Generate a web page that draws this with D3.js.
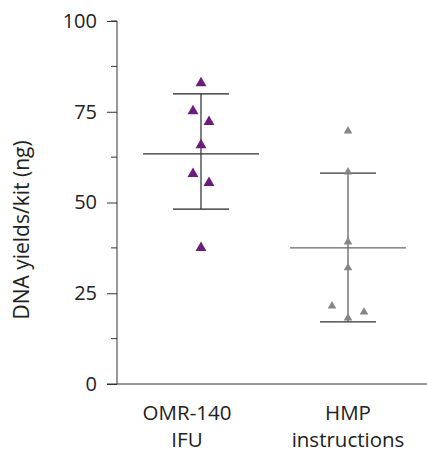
<!DOCTYPE html>
<html>
<head>
<meta charset="utf-8">
<script src="https://cdn.jsdelivr.net/npm/d3@7"></script>
<style>
  body { margin: 0; background: #fff; }
  text { font-family: "Open Sans", "Noto Sans", sans-serif; fill: #222; }
</style>
</head>
<body>
<svg id="chart" width="427" height="454"></svg>
<script>
"use strict";
// groups and their label lines
const groups = ['OMR-140 IFU', 'HMP instructions'];
const groupLabels = [['OMR-140', 'IFU'], ['HMP', 'instructions']];
// point values, with a small horizontal jitter (-1 left, 0 centre, 1 right)
const omrValues = [82.9, 75.2, 72.2, 65.8, 57.9, 55.4, 37.5];
const omrJitter = [0, -1, 1, 0, -1, 1, 0];
const hmpValues = [69.7, 58.4, 39.1, 32.0, 21.5, 19.8, 18.2];
const hmpJitter = [0, 0, 0, 0, -1, 1, 0];
// mean and error bar ends
const means = [63.4, 37.5];
const upper = [79.9, 58.1];
const lower = [48.2, 17.1];
const yTicks = [0, 25, 50, 75, 100];

const svg = d3.select('#chart');
const y = d3.scaleLinear().domain([0, 100]).range([384, 21]);
const x = d3.scalePoint().domain(groups).range([201, 348]);
const axisX = 117;

//y axis with major and minor ticks
const yAxis = d3.axisLeft(y).tickValues(yTicks).tickSize(10).tickPadding(10);
const gy = svg.append('g').attr('transform', `translate(${axisX},0)`).call(yAxis);
gy.select('.domain').attr('d', `M-6,${y(100)}H0V${y(0)}`).attr('stroke', '#333');
gy.selectAll('.tick line').attr('stroke', '#333');
gy.selectAll('.tick text').style('font-size', '20px').attr('fill', '#222');
gy.selectAll('.minor')
  .data([12.5, 37.5, 62.5, 87.5])
  .enter()
  .append('line')
  .attr('class', 'minor')
  .attr('x1', -6).attr('x2', 0)
  .attr('y1', d => y(d)).attr('y2', d => y(d))
  .attr('stroke', '#333');

//x axis line
svg.append('line')
  .attr('x1', axisX - 10).attr('x2', 427)
  .attr('y1', y(0)).attr('y2', y(0))
  .attr('stroke', '#333');

//category labels, one text per line
groupLabels.forEach((lines, i) => {
  const cx = i === 0 ? x(groups[i]) - 14 : x(groups[i]);
  svg.append('g')
    .selectAll('text')
    .data(lines)
    .enter()
    .append('text')
    .attr('x', cx)
    .attr('y', (d, j) => 420 + j * 27)
    .attr('text-anchor', 'middle')
    .style('font-size', '20.5px')
    .text(d => d);
});

//y label
svg.append('text')
  .attr('transform', 'translate(29,230) rotate(-90)')
  .attr('text-anchor', 'middle')
  .style('font-size', '21px')
  .text('DNA yields/kit (ng)');

const styles = [
  { color: '#6c1d7c', size: 52, vline: '#555', cap: '#222', mean: '#333' },
  { color: '#858585', size: 32, vline: '#777', cap: '#333', mean: '#666' }
];

//error bars and means
groups.forEach((g, i) => {
  const cx = x(g);
  const s = styles[i];
  svg.append('line')
    .attr('x1', cx).attr('x2', cx)
    .attr('y1', y(upper[i])).attr('y2', y(lower[i]))
    .attr('stroke', s.vline).attr('stroke-width', 1.5);
  [upper[i], lower[i]].forEach(v => {
    svg.append('line')
      .attr('x1', cx - 28).attr('x2', cx + 28)
      .attr('y1', y(v)).attr('y2', y(v))
      .attr('stroke', s.cap).attr('stroke-width', 1.3);
  });
  svg.append('line')
    .attr('x1', cx - 58).attr('x2', cx + 58)
    .attr('y1', y(means[i])).attr('y2', y(means[i]))
    .attr('stroke', s.mean).attr('stroke-width', 1.3);
});

//points
const sets = [[omrValues, omrJitter, 8], [hmpValues, hmpJitter, 16]];
sets.forEach(([vals, jit, step], i) => {
  const s = styles[i];
  const tri = d3.symbol().type(d3.symbolTriangle).size(s.size);
  svg.append('g')
    .selectAll('path')
    .data(vals)
    .enter()
    .append('path')
    .attr('d', tri)
    .attr('transform', (d, j) => `translate(${x(groups[i]) + jit[j] * step},${y(d)})`)
    .attr('fill', s.color);
});
</script>
</body>
</html>
